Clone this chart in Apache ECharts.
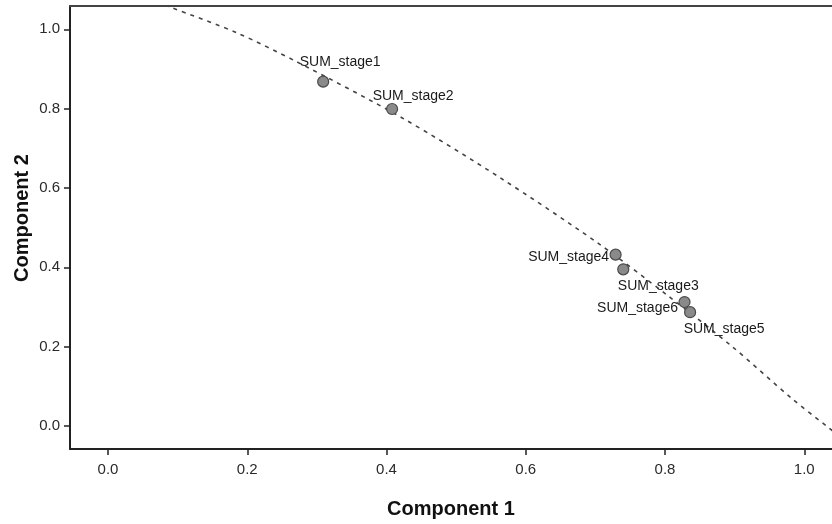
<!DOCTYPE html>
<html>
<head>
<meta charset="utf-8">
<script src="https://cdn.jsdelivr.net/npm/echarts@6/dist/echarts.min.js"></script>
<style>
html,body{margin:0;padding:0;background:#fff;}
#chart{width:832px;height:524px;}
</style>
</head>
<body>
<div id="chart"></div>
<script>
// ---- data ----
const pointNames = ['SUM_stage1','SUM_stage2','SUM_stage3','SUM_stage4','SUM_stage5','SUM_stage6'];
const comp1 = [0.309, 0.408, 0.740, 0.729, 0.836, 0.828];
const comp2 = [0.868, 0.799, 0.395, 0.432, 0.287, 0.3125];
const curveX = [0.070, 0.0876, 0.185, 0.271, 0.422, 0.563, 0.702, 0.803, 0.896, 0.983, 1.032, 1.050];
const curveY = [1.069, 1.057, 0.991, 0.918, 0.777, 0.626, 0.463, 0.330, 0.201, 0.068, 0.000, -0.025];
const tickValues = [0.0, 0.2, 0.4, 0.6, 0.8, 1.0];
const xTitle = 'Component 1';
const yTitle = 'Component 2';

// ---- styles (label offsets in px relative to the point) ----
const labelOffsets = [[17,-19],[21,-13],[35,17],[-47,2],[34,17],[-47,6]];
const FONT = '"Liberation Sans", Arial, sans-serif';

const chart = echarts.init(document.getElementById('chart'));

const scatterData = pointNames.map((n,i)=>({
  name: n,
  value: [comp1[i], comp2[i]],
  label: { offset: labelOffsets[i] }
}));
const curveData = curveX.map((x,i)=>[x, curveY[i]]);

const axisCommon = {
  type: 'value',
  splitLine: { show: false },
  axisLine: { show: true, onZero: false, lineStyle: { color: '#222', width: 2 } },
  axisTick: { show: true, inside: false, length: 6, customValues: tickValues, lineStyle: { color: '#222', width: 1.5 } },
  axisLabel: { customValues: tickValues, color: '#2a2a2a', fontSize: 15, fontFamily: FONT, formatter: v => v.toFixed(1) }
};

chart.setOption({
  animation: false,
  backgroundColor: '#fff',
  grid: { left: 70, right: 0, top: 6, bottom: 74 },
  xAxis: [
    Object.assign({}, axisCommon, {
      min: -0.0546, max: 1.0398,
      position: 'bottom',
      axisLabel: Object.assign({}, axisCommon.axisLabel, { margin: 13 }),
      name: xTitle, nameLocation: 'middle', nameGap: 50,
      nameTextStyle: { fontSize: 20, fontWeight: 'bold', color: '#111', fontFamily: FONT }
    }),
    {
      type: 'value', min: -0.0546, max: 1.0398, position: 'top',
      axisLine: { show: true, onZero: false, lineStyle: { color: '#444', width: 2 } },
      axisTick: { show: false }, axisLabel: { show: false }, splitLine: { show: false }
    }
  ],
  yAxis: Object.assign({}, axisCommon, {
    min: -0.0578, max: 1.0586,
    axisLabel: Object.assign({}, axisCommon.axisLabel, { margin: 10 })
  }),
  graphic: [{
    type: 'text',
    x: 22, y: 218,
    rotation: Math.PI / 2,
    style: { text: yTitle, font: 'bold 20px ' + FONT, fill: '#111', textAlign: 'center', textVerticalAlign: 'middle' }
  }],
  series: [
    {
      type: 'line',
      data: curveData,
      smooth: 0.3,
      showSymbol: false,
      clip: true,
      lineStyle: { color: '#444', width: 1.6, type: [4, 5] },
      z: 1,
      silent: true
    },
    {
      type: 'scatter',
      data: scatterData,
      symbolSize: 11,
      itemStyle: { color: '#8a8a8a', borderColor: '#4a4a4a', borderWidth: 1.2, opacity: 1 },
      label: {
        show: true, position: 'inside', formatter: p => p.name,
        color: '#1a1a1a', fontSize: 14, fontFamily: FONT
      },
      z: 3
    }
  ]
});
</script>
</body>
</html>
